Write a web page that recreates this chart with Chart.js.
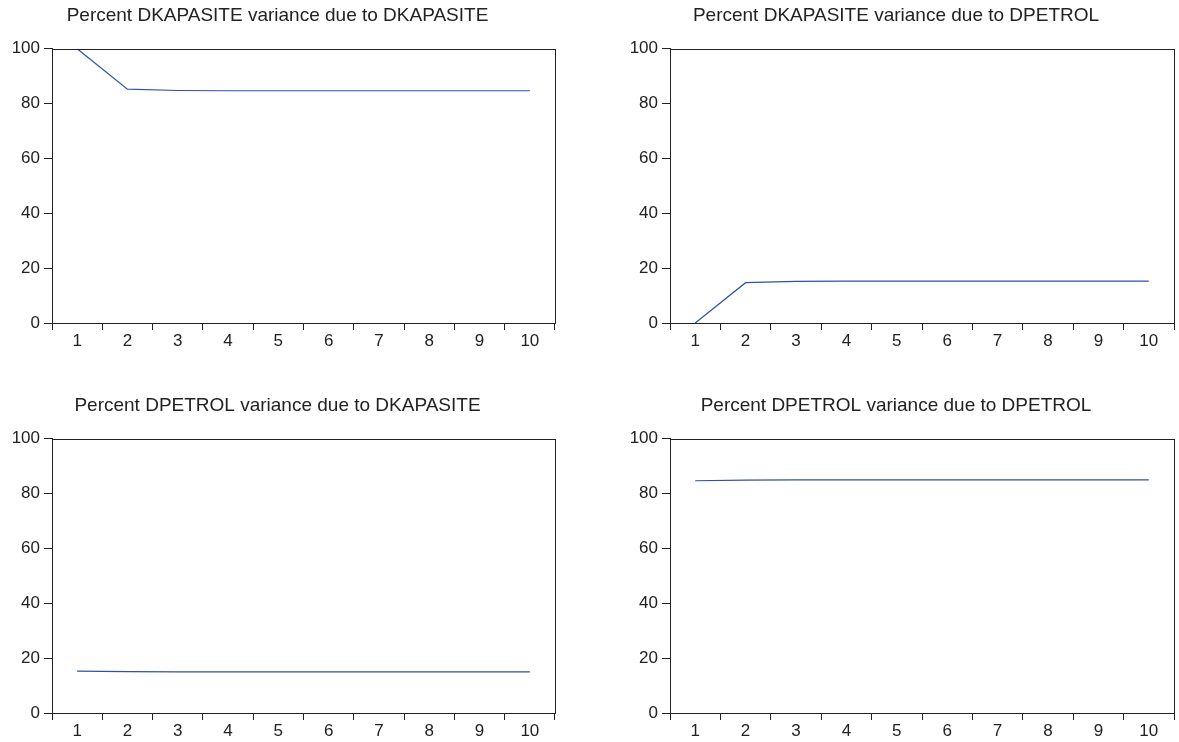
<!DOCTYPE html>
<html>
<head>
<meta charset="utf-8">
<script src="https://cdn.jsdelivr.net/npm/chart.js@4/dist/chart.umd.min.js"></script>
<style>
  html, body { margin: 0; padding: 0; background: #fff; overflow: hidden; }
  .panel { position: absolute; }
</style>
</head>
<body>
<div class="panel" style="left:0px;top:0px;width:606px;height:370px"><canvas id="c1"></canvas></div>
<div class="panel" style="left:618px;top:0px;width:608px;height:370px"><canvas id="c2"></canvas></div>
<div class="panel" style="left:0px;top:390px;width:606px;height:370px"><canvas id="c3"></canvas></div>
<div class="panel" style="left:618px;top:390px;width:608px;height:370px"><canvas id="c4"></canvas></div>
<script>
const periods = ['1', '2', '3', '4', '5', '6', '7', '8', '9', '10'];

// variance decomposition, percent
const kapasiteByKapasite = [100, 85.3, 84.8, 84.7, 84.7, 84.7, 84.7, 84.7, 84.7, 84.7];
const kapasiteByPetrol = [0, 14.7, 15.2, 15.3, 15.3, 15.3, 15.3, 15.3, 15.3, 15.3];
const petrolByKapasite = [15.3, 15.1, 15.0, 15.0, 15.0, 15.0, 15.0, 15.0, 15.0, 15.0];
const petrolByPetrol = [84.7, 84.9, 85.0, 85.0, 85.0, 85.0, 85.0, 85.0, 85.0, 85.0];

const titles = [
  'Percent DKAPASITE variance due to DKAPASITE',
  'Percent DKAPASITE variance due to DPETROL',
  'Percent DPETROL variance due to DKAPASITE',
  'Percent DPETROL variance due to DPETROL',
];

const ink = '#222222';
const lineBlue = '#2d52a8';
const fontFamily = 'Liberation Sans, Arial, sans-serif';

// box round the plot area, like the original frame
const framePlugin = {
  id: 'frame',
  afterDraw(chart) {
    const a = chart.chartArea;
    const ctx = chart.ctx;
    ctx.save();
    ctx.strokeStyle = ink;
    ctx.lineWidth = 1;
    ctx.strokeRect(Math.round(a.left) + 0.5, Math.round(a.top) + 0.5,
      Math.round(a.right - a.left), Math.round(a.bottom - a.top));
    ctx.restore();
  },
};

function makeChart(id, title, values, rightPad) {
  return new Chart(document.getElementById(id), {
    type: 'line',
    data: {
      labels: periods,
      datasets: [{
        data: values,
        borderColor: lineBlue,
        borderWidth: 1.2,
        pointRadius: 0,
        tension: 0,
      }],
    },
    plugins: [framePlugin],
    options: {
      responsive: true,
      maintainAspectRatio: false,
      animation: false,
      layout: { padding: { left: 0, right: rightPad, top: 0, bottom: 0 } },
      plugins: {
        legend: { display: false },
        tooltip: { enabled: false },
        title: {
          display: true,
          text: title,
          color: ink,
          font: { family: fontFamily, size: 19, weight: 'normal' },
          padding: { top: 4, bottom: 22 },
        },
      },
      scales: {
        x: {
          type: 'category',
          offset: true,
          border: { display: true, color: ink, width: 1 },
          grid: { offset: true, drawOnChartArea: false, tickLength: 7, color: ink },
          ticks: {
            color: ink,
            padding: 1,
            maxRotation: 0,
            font: { family: fontFamily, size: 17 },
          },
          afterFit(scale) { scale.height = 47; },
        },
        y: {
          min: 0,
          max: 100,
          border: { display: true, color: ink, width: 1 },
          grid: { drawOnChartArea: false, tickLength: 8, color: ink },
          ticks: {
            stepSize: 20,
            color: ink,
            padding: 4,
            font: { family: fontFamily, size: 17 },
          },
          afterFit(scale) { scale.width = 52; },
        },
      },
    },
  });
}

makeChart('c1', titles[0], kapasiteByKapasite, 51);
makeChart('c2', titles[1], kapasiteByPetrol, 52);
makeChart('c3', titles[2], petrolByKapasite, 51);
makeChart('c4', titles[3], petrolByPetrol, 52);
</script>
</body>
</html>
